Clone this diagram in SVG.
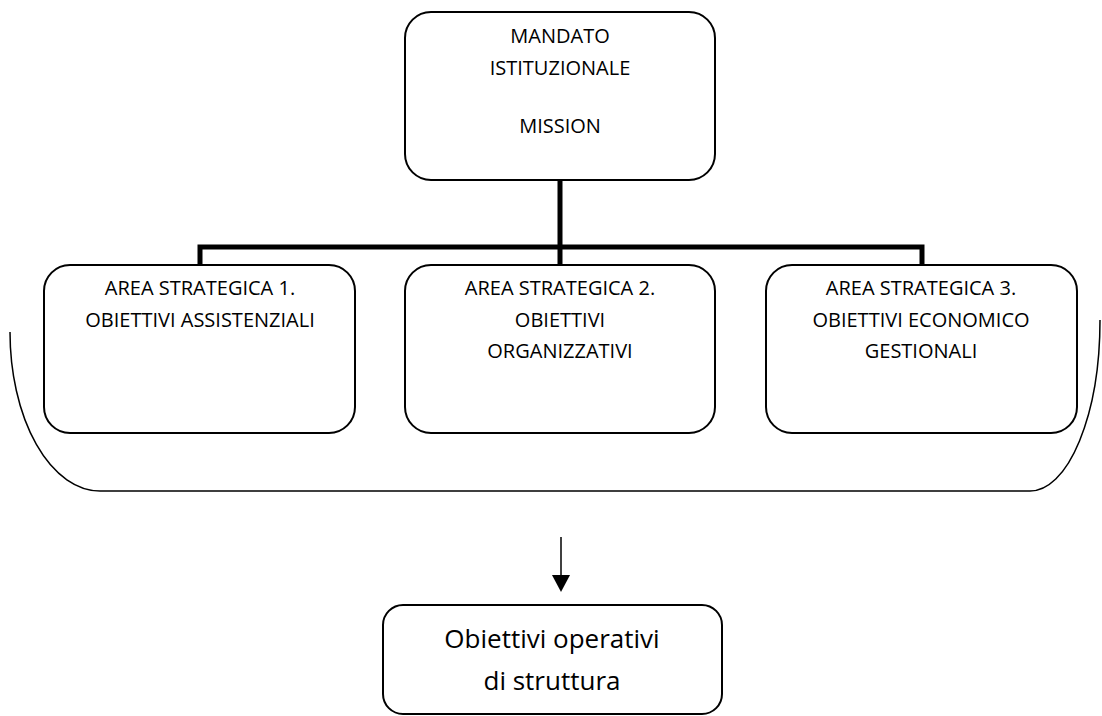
<svg xmlns="http://www.w3.org/2000/svg" width="1102" height="716" viewBox="0 0 1102 716">
<defs>
<style>
.box{fill:#fff;stroke:#000;stroke-width:2}
.t{font-family:"Open Sans","Liberation Sans",sans-serif;font-size:20px;fill:#000;text-anchor:middle}
.tb{font-family:"Open Sans","Liberation Sans",sans-serif;font-size:26px;fill:#000;text-anchor:middle}
.thick{fill:none;stroke:#000;stroke-width:5}
.thin{fill:none;stroke:#000;stroke-width:1.5}
</style>
</defs>
<rect width="1102" height="716" fill="#fff"/>
<g id="connectors">
<path class="thick" d="M560,180 V247 M200,266 V247 H922 V266 M560,247 V266"/>
<path class="thin" d="M10,332 A90,159 0 0 0 100,491 H1030 A70,171 0 0 0 1100,320"/>
<line x1="561" y1="537" x2="561" y2="578" stroke="#000" stroke-width="1.5"/>
<path d="M552,575 L570,575 L561,592 Z" fill="#000"/>
</g>
<g id="mandato">
<rect class="box" x="405" y="12" width="310" height="168" rx="26"/>
<text class="t" x="560" y="43">MANDATO</text>
<text class="t" x="560" y="75">ISTITUZIONALE</text>
<text class="t" x="560" y="133">MISSION</text>
</g>
<g id="area1">
<rect class="box" x="44" y="265" width="311" height="168" rx="26"/>
<text class="t" x="200" y="295">AREA STRATEGICA 1.</text>
<text class="t" x="200" y="327">OBIETTIVI ASSISTENZIALI</text>
</g>
<g id="area2">
<rect class="box" x="405" y="265" width="310" height="168" rx="26"/>
<text class="t" x="560" y="295">AREA STRATEGICA 2.</text>
<text class="t" x="560" y="327">OBIETTIVI</text>
<text class="t" x="560" y="358">ORGANIZZATIVI</text>
</g>
<g id="area3">
<rect class="box" x="766" y="265" width="311" height="168" rx="26"/>
<text class="t" x="921" y="295">AREA STRATEGICA 3.</text>
<text class="t" x="921" y="327">OBIETTIVI ECONOMICO</text>
<text class="t" x="921" y="358">GESTIONALI</text>
</g>
<g id="operativi">
<rect class="box" x="383" y="605" width="339" height="109" rx="20"/>
<text class="tb" x="552" y="648">Obiettivi operativi</text>
<text class="tb" x="552" y="690">di struttura</text>
</g>
</svg>
